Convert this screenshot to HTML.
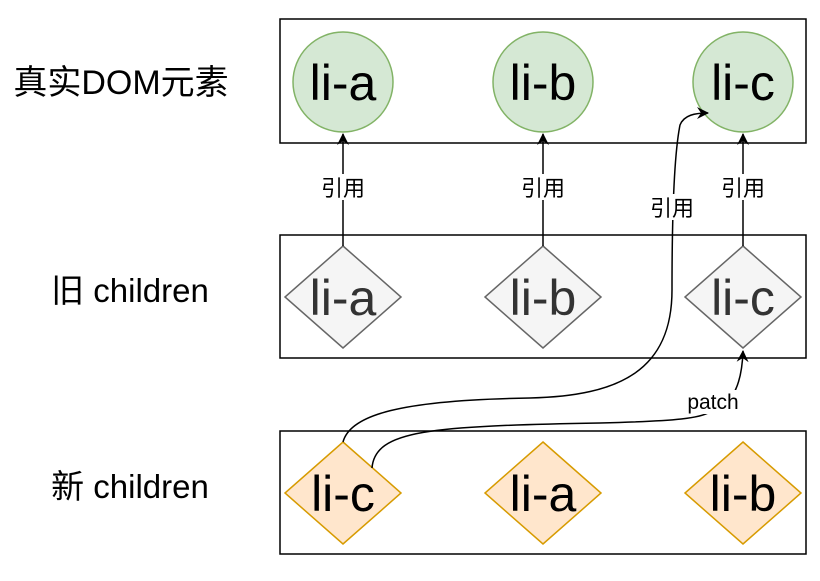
<!DOCTYPE html><html><head><meta charset="utf-8"><style>body{margin:0;background:#fff}</style></head><body>
<svg width="820" height="576" xmlns="http://www.w3.org/2000/svg" font-family="Liberation Sans, Noto Sans CJK SC, sans-serif">
<defs><marker id="a" markerWidth="14" markerHeight="14" refX="11" refY="6" orient="auto" markerUnits="userSpaceOnUse"><path d="M0,0 L12,6 L0,12 L4,6z" fill="#000"/></marker></defs>
<g fill="none" stroke="#000" stroke-width="1.5">
<rect x="280" y="19" width="526" height="124"/>
<rect x="280" y="235" width="526" height="123"/>
<rect x="280" y="431" width="526" height="123"/>
</g>
<g font-size="33" text-anchor="middle">
<text x="121" y="94" font-size="34">真实DOM元素</text>
<text x="130" y="302">旧 children</text>
<text x="130" y="498">新 children</text>
</g>
<g fill="#d5e8d4" stroke="#82b366" stroke-width="1.5">
<circle cx="343" cy="82" r="50"/><circle cx="543" cy="82" r="50"/><circle cx="743" cy="82" r="50"/>
</g>
<g fill="#f5f5f5" stroke="#666" stroke-width="1.5">
<path d="M343,246 L401,297 L343,348 L285,297z"/><path d="M543,246 L601,297 L543,348 L485,297z"/><path d="M743,246 L801,297 L743,348 L685,297z"/>
</g>
<g fill="#ffe6cc" stroke="#d79b00" stroke-width="1.5">
<path d="M343,442 L401,493 L343,544 L285,493z"/><path d="M543,442 L601,493 L543,544 L485,493z"/><path d="M743,442 L801,493 L743,544 L685,493z"/>
</g>
<g font-size="50" text-anchor="middle">
<text x="343" y="100">li-a</text><text x="543" y="100">li-b</text><text x="743" y="100">li-c</text>
<g fill="#333"><text x="343" y="315">li-a</text><text x="543" y="315">li-b</text><text x="743" y="315">li-c</text></g>
<text x="343" y="511">li-c</text><text x="543" y="511">li-a</text><text x="743" y="511">li-b</text>
</g>
<g stroke="#000" stroke-width="1.5" fill="none">
<path d="M343,246 V134" marker-end="url(#a)"/><path d="M543,246 V134" marker-end="url(#a)"/><path d="M743,246 V134" marker-end="url(#a)"/>
<path d="M343,442 C350,415 400,400 530,398 C620,396 672,370 672,290 C672,200 675,150 680,125 C684,115 695,113 708,113" marker-end="url(#a)"/>
<path d="M372,468 C375,430 430,426 600,423 C680,421 700,418 710,412 C735,405 742,380 743,351" marker-end="url(#a)"/>
</g>
<g font-size="22" text-anchor="middle">
<rect x="318" y="174" width="50" height="26" fill="#fff"/><text x="343" y="196">引用</text>
<rect x="518" y="174" width="50" height="26" fill="#fff"/><text x="543" y="196">引用</text>
<rect x="718" y="174" width="50" height="26" fill="#fff"/><text x="743" y="196">引用</text>
<rect x="647" y="194" width="50" height="26" fill="#fff"/><text x="672" y="216">引用</text>
<rect x="683" y="390" width="62" height="24" fill="#fff"/><text x="713" y="409" font-size="21">patch</text>
</g>
</svg></body></html>
